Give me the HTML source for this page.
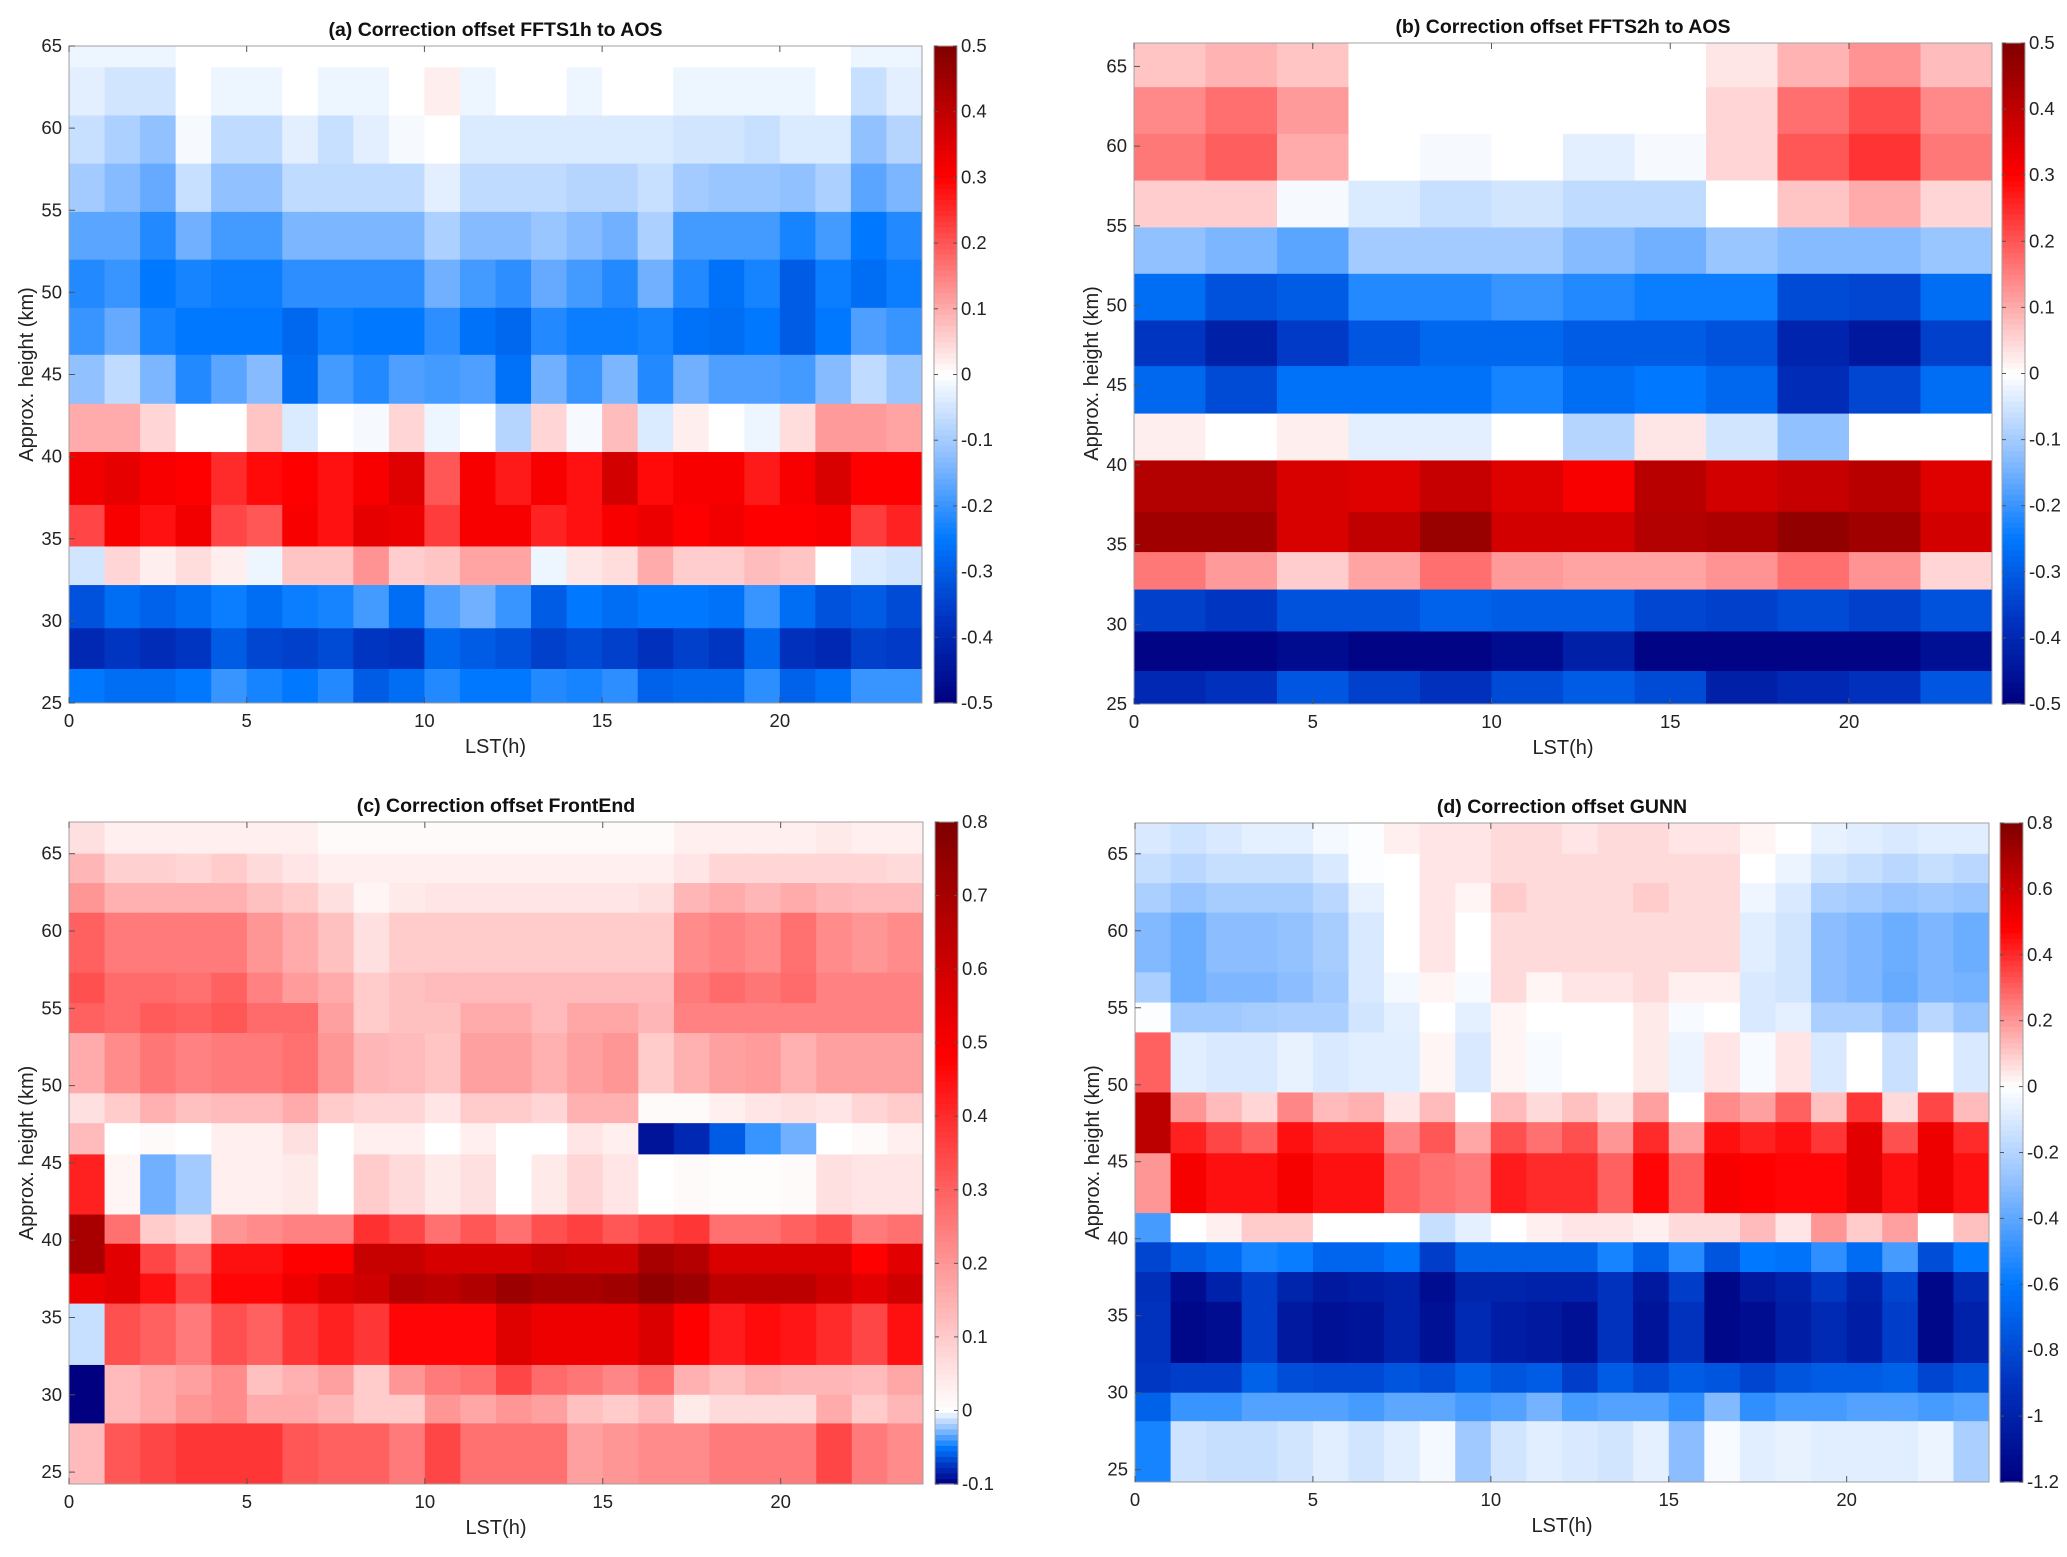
<!DOCTYPE html>
<html><head><meta charset="utf-8">
<style>
html,body{margin:0;padding:0;background:#fff;overflow:hidden;}
svg{display:block;font-family:"Liberation Sans",Arial,sans-serif;}
</style></head>
<body>
<svg id="fig" width="2067" height="1557" viewBox="0 0 2067 1557" xmlns="http://www.w3.org/2000/svg"></svg>
<script>
// ---------- DATA ----------
const hoursRange = [0, 24];
const xTicks = [0, 5, 10, 15, 20];
const yTicks = [25, 30, 35, 40, 45, 50, 55, 60, 65];
// row edges in km, top to bottom
const edgesAB = [66.5,63.7,60.77,57.84,54.9,51.99,49.06,46.2,43.22,40.28,37.06,34.53,32.18,29.55,27.07,25];
const edgesCD = [67.05,65.0,63.1,61.18,57.3,55.34,53.4,49.5,47.57,45.55,41.66,39.77,37.84,35.9,31.93,30.0,28.15,24.2];

const aValues = [
[-0.02,-0.02,-0.02,0,0,0,0,0,0,0,0,0,0,0,0,0,0,0,0,0,0,0,-0.02,-0.02],
[-0.03,-0.05,-0.05,0,-0.02,-0.02,0,-0.02,-0.02,0,0.02,-0.02,0,0,-0.02,0,0,-0.02,-0.02,-0.02,-0.02,0,-0.06,-0.03],
[-0.06,-0.09,-0.12,-0.01,-0.07,-0.07,-0.03,-0.06,-0.03,-0.01,0,-0.04,-0.04,-0.04,-0.04,-0.04,-0.04,-0.05,-0.05,-0.06,-0.04,-0.04,-0.12,-0.08],
[-0.1,-0.13,-0.16,-0.06,-0.12,-0.12,-0.07,-0.07,-0.07,-0.07,-0.03,-0.07,-0.07,-0.07,-0.08,-0.08,-0.06,-0.1,-0.11,-0.11,-0.12,-0.09,-0.17,-0.14],
[-0.17,-0.17,-0.22,-0.15,-0.19,-0.19,-0.14,-0.14,-0.14,-0.14,-0.09,-0.13,-0.13,-0.11,-0.13,-0.15,-0.09,-0.19,-0.19,-0.19,-0.23,-0.19,-0.25,-0.22],
[-0.22,-0.2,-0.25,-0.23,-0.24,-0.24,-0.21,-0.21,-0.21,-0.21,-0.15,-0.19,-0.21,-0.16,-0.19,-0.22,-0.15,-0.22,-0.26,-0.23,-0.3,-0.24,-0.27,-0.24],
[-0.2,-0.16,-0.23,-0.25,-0.25,-0.25,-0.28,-0.24,-0.25,-0.25,-0.21,-0.26,-0.28,-0.22,-0.24,-0.24,-0.23,-0.26,-0.27,-0.25,-0.3,-0.25,-0.18,-0.2],
[-0.12,-0.07,-0.14,-0.22,-0.17,-0.13,-0.27,-0.19,-0.22,-0.18,-0.19,-0.18,-0.26,-0.15,-0.2,-0.14,-0.22,-0.15,-0.18,-0.18,-0.19,-0.13,-0.07,-0.11],
[0.1,0.1,0.05,0,0,0.07,-0.04,0,-0.01,0.05,-0.02,0,-0.08,0.05,-0.01,0.08,-0.04,0.02,0,-0.02,0.04,0.12,0.12,0.11],
[0.32,0.34,0.31,0.3,0.25,0.29,0.3,0.28,0.31,0.35,0.2,0.31,0.27,0.31,0.28,0.37,0.29,0.31,0.31,0.27,0.31,0.36,0.3,0.3],
[0.22,0.31,0.28,0.32,0.22,0.2,0.31,0.28,0.34,0.33,0.23,0.31,0.31,0.26,0.28,0.31,0.33,0.3,0.32,0.3,0.3,0.31,0.23,0.26],
[-0.05,0.05,0.02,0.04,0.02,-0.02,0.07,0.07,0.13,0.06,0.07,0.11,0.11,-0.02,0.03,0.04,0.1,0.06,0.06,0.08,0.07,0,-0.04,-0.05],
[-0.32,-0.27,-0.29,-0.27,-0.24,-0.27,-0.24,-0.23,-0.19,-0.27,-0.18,-0.15,-0.2,-0.3,-0.25,-0.27,-0.25,-0.25,-0.26,-0.2,-0.27,-0.32,-0.3,-0.33],
[-0.4,-0.37,-0.39,-0.37,-0.3,-0.34,-0.35,-0.33,-0.37,-0.38,-0.28,-0.3,-0.32,-0.35,-0.33,-0.35,-0.38,-0.35,-0.37,-0.28,-0.38,-0.4,-0.35,-0.36],
[-0.25,-0.27,-0.27,-0.25,-0.2,-0.23,-0.25,-0.22,-0.3,-0.27,-0.22,-0.25,-0.25,-0.22,-0.23,-0.21,-0.29,-0.28,-0.28,-0.21,-0.29,-0.26,-0.2,-0.2]
];
const bValues = [
[0.07,0.09,0.07,0,0,0,0,0,0.03,0.09,0.13,0.08],
[0.14,0.17,0.12,0,0,0,0,0,0.05,0.17,0.21,0.14],
[0.16,0.19,0.1,0,-0.01,0,-0.03,-0.01,0.05,0.2,0.24,0.16],
[0.06,0.06,-0.01,-0.04,-0.06,-0.05,-0.07,-0.07,0,0.07,0.1,0.05],
[-0.12,-0.14,-0.17,-0.1,-0.1,-0.1,-0.13,-0.15,-0.11,-0.13,-0.13,-0.11],
[-0.27,-0.32,-0.3,-0.22,-0.22,-0.2,-0.22,-0.24,-0.24,-0.33,-0.34,-0.27],
[-0.37,-0.42,-0.36,-0.31,-0.28,-0.28,-0.3,-0.3,-0.32,-0.41,-0.44,-0.35],
[-0.28,-0.33,-0.26,-0.26,-0.26,-0.23,-0.27,-0.25,-0.28,-0.39,-0.34,-0.27],
[0.02,0,0.02,-0.03,-0.03,0,-0.08,0.03,-0.05,-0.12,0,0],
[0.42,0.42,0.36,0.35,0.39,0.35,0.31,0.41,0.37,0.39,0.41,0.35],
[0.45,0.45,0.36,0.4,0.46,0.37,0.37,0.42,0.43,0.47,0.45,0.37],
[0.16,0.12,0.06,0.11,0.17,0.12,0.11,0.11,0.13,0.17,0.13,0.05],
[-0.35,-0.37,-0.32,-0.32,-0.29,-0.3,-0.3,-0.34,-0.35,-0.33,-0.35,-0.32],
[-0.49,-0.49,-0.47,-0.49,-0.49,-0.47,-0.42,-0.49,-0.49,-0.49,-0.49,-0.46],
[-0.4,-0.38,-0.31,-0.35,-0.38,-0.33,-0.3,-0.33,-0.42,-0.4,-0.38,-0.31]
];
const cValues = [
[0.06,0.03,0.03,0.03,0.03,0.03,0.03,0.01,0.01,0.01,0.01,0.01,0.01,0.01,0.01,0.01,0.01,0.03,0.03,0.03,0.03,0.04,0.03,0.03],
[0.14,0.09,0.09,0.08,0.1,0.07,0.05,0.03,0.03,0.03,0.03,0.03,0.03,0.03,0.03,0.03,0.03,0.05,0.08,0.08,0.08,0.08,0.08,0.07],
[0.2,0.15,0.15,0.15,0.15,0.12,0.1,0.06,0.02,0.04,0.05,0.05,0.05,0.05,0.05,0.05,0.06,0.14,0.16,0.14,0.16,0.14,0.13,0.13],
[0.3,0.25,0.25,0.25,0.25,0.2,0.16,0.12,0.06,0.1,0.1,0.1,0.1,0.1,0.1,0.1,0.1,0.22,0.24,0.22,0.27,0.22,0.2,0.22],
[0.33,0.28,0.28,0.27,0.3,0.24,0.19,0.16,0.1,0.12,0.13,0.13,0.13,0.13,0.13,0.13,0.13,0.25,0.28,0.26,0.28,0.24,0.24,0.24],
[0.3,0.28,0.31,0.3,0.32,0.28,0.28,0.18,0.1,0.12,0.12,0.16,0.16,0.13,0.17,0.17,0.14,0.24,0.24,0.24,0.24,0.24,0.24,0.24],
[0.16,0.22,0.26,0.24,0.25,0.25,0.27,0.2,0.14,0.13,0.11,0.18,0.18,0.15,0.18,0.2,0.1,0.15,0.18,0.19,0.15,0.18,0.18,0.18],
[0.06,0.1,0.15,0.12,0.13,0.13,0.16,0.1,0.08,0.08,0.05,0.1,0.1,0.08,0.15,0.15,0.01,0.01,0.03,0.05,0.06,0.05,0.08,0.1],
[0.13,0,0.01,0,0.03,0.03,0.06,0,0.03,0.03,0,0.03,0,0,0.05,0.03,-0.09,-0.08,-0.06,-0.04,-0.03,0,0.01,0.03],
[0.42,0.02,-0.03,-0.02,0.03,0.03,0.04,0,0.1,0.07,0.04,0.06,0,0.04,0.08,0.05,0,0.01,0.005,0.005,0.01,0.06,0.05,0.05],
[0.7,0.27,0.1,0.07,0.2,0.22,0.24,0.24,0.39,0.35,0.27,0.32,0.27,0.33,0.36,0.32,0.35,0.38,0.27,0.27,0.3,0.33,0.25,0.27],
[0.7,0.55,0.35,0.28,0.45,0.45,0.48,0.48,0.62,0.62,0.58,0.58,0.58,0.62,0.6,0.6,0.7,0.67,0.57,0.57,0.57,0.57,0.48,0.55],
[0.52,0.55,0.45,0.35,0.47,0.47,0.52,0.57,0.6,0.67,0.65,0.68,0.73,0.7,0.7,0.72,0.76,0.73,0.65,0.65,0.65,0.6,0.55,0.6],
[-0.012,0.33,0.3,0.25,0.33,0.3,0.38,0.42,0.38,0.47,0.47,0.47,0.56,0.52,0.52,0.52,0.57,0.48,0.43,0.46,0.44,0.4,0.35,0.45],
[-0.1,0.13,0.16,0.18,0.22,0.12,0.15,0.18,0.1,0.2,0.25,0.27,0.35,0.28,0.26,0.23,0.27,0.15,0.12,0.15,0.14,0.14,0.13,0.17],
[-0.1,0.13,0.16,0.2,0.22,0.16,0.16,0.14,0.1,0.1,0.2,0.17,0.2,0.18,0.12,0.1,0.13,0.04,0.07,0.07,0.07,0.16,0.1,0.14],
[0.13,0.32,0.35,0.38,0.38,0.38,0.32,0.3,0.3,0.25,0.35,0.27,0.27,0.27,0.18,0.2,0.22,0.22,0.25,0.25,0.25,0.35,0.25,0.22]
];
const dValues = [
[-0.1,-0.13,-0.1,-0.07,-0.07,-0.03,-0.01,0.03,0.05,0.05,0.07,0.07,0.05,0.07,0.07,0.05,0.05,0.02,0,-0.06,-0.08,-0.1,-0.08,-0.08],
[-0.15,-0.18,-0.15,-0.15,-0.15,-0.1,-0.01,0,0.05,0.05,0.07,0.07,0.07,0.07,0.07,0.07,0.07,0,-0.05,-0.12,-0.15,-0.18,-0.15,-0.18],
[-0.22,-0.27,-0.23,-0.23,-0.23,-0.18,-0.06,0,0.05,0.02,0.1,0.07,0.07,0.07,0.1,0.07,0.07,-0.04,-0.1,-0.22,-0.24,-0.27,-0.25,-0.27],
[-0.32,-0.37,-0.3,-0.3,-0.28,-0.23,-0.1,0,0.05,0,0.07,0.07,0.07,0.07,0.07,0.07,0.07,-0.08,-0.12,-0.3,-0.33,-0.37,-0.33,-0.37],
[-0.22,-0.37,-0.33,-0.33,-0.3,-0.25,-0.1,-0.03,0.02,-0.02,0.07,0.02,0.05,0.05,0.07,0.03,0.03,-0.1,-0.12,-0.3,-0.33,-0.38,-0.33,-0.35],
[-0.01,-0.25,-0.25,-0.23,-0.22,-0.22,-0.12,-0.07,0,-0.07,0.02,0,0,0,0.04,-0.02,0,-0.1,-0.07,-0.22,-0.22,-0.3,-0.18,-0.27],
[0.3,-0.08,-0.1,-0.1,-0.06,-0.1,-0.08,-0.08,0.02,-0.1,0.02,-0.02,0,0,0.04,-0.05,0.05,-0.02,0.05,-0.1,0,-0.14,0,-0.1],
[0.65,0.2,0.13,0.08,0.23,0.13,0.15,0.05,0.13,0,0.13,0.07,0.12,0.06,0.18,0,0.22,0.18,0.3,0.12,0.38,0.07,0.35,0.13],
[0.65,0.42,0.35,0.3,0.45,0.4,0.4,0.23,0.32,0.17,0.33,0.27,0.33,0.2,0.4,0.18,0.45,0.42,0.45,0.38,0.55,0.33,0.52,0.4],
[0.2,0.5,0.45,0.45,0.5,0.45,0.45,0.3,0.27,0.25,0.43,0.4,0.4,0.3,0.47,0.3,0.5,0.48,0.47,0.47,0.55,0.45,0.52,0.45],
[-0.45,0,0.03,0.1,0.1,0,0,0,-0.15,-0.07,0,0.03,0.05,0.05,0.03,0.07,0.07,0.13,0.05,0.2,0.1,0.18,0,0.12],
[-0.82,-0.72,-0.66,-0.55,-0.58,-0.68,-0.68,-0.62,-0.85,-0.7,-0.7,-0.7,-0.7,-0.55,-0.7,-0.52,-0.75,-0.6,-0.62,-0.5,-0.65,-0.45,-0.78,-0.6],
[-0.92,-1.12,-1.0,-0.85,-0.98,-1.05,-1.02,-1.0,-1.12,-0.98,-0.98,-1.0,-1.0,-0.9,-1.05,-0.85,-1.15,-1.05,-1.0,-0.88,-1.0,-0.82,-1.15,-0.95],
[-0.9,-1.15,-1.12,-0.85,-1.05,-1.1,-1.08,-1.0,-1.1,-0.95,-1.02,-1.05,-1.1,-0.9,-1.08,-0.9,-1.15,-1.12,-1.02,-0.95,-1.02,-0.85,-1.15,-1.0],
[-0.88,-0.85,-0.85,-0.7,-0.78,-0.8,-0.8,-0.75,-0.78,-0.7,-0.75,-0.72,-0.85,-0.72,-0.8,-0.72,-0.75,-0.82,-0.75,-0.72,-0.72,-0.7,-0.82,-0.75],
[-0.7,-0.48,-0.48,-0.42,-0.42,-0.42,-0.45,-0.4,-0.4,-0.45,-0.42,-0.35,-0.45,-0.42,-0.42,-0.5,-0.32,-0.5,-0.45,-0.45,-0.42,-0.42,-0.45,-0.42],
[-0.55,-0.13,-0.15,-0.15,-0.12,-0.08,-0.12,-0.08,-0.03,-0.25,-0.12,-0.08,-0.1,-0.12,-0.07,-0.3,-0.02,-0.08,-0.06,-0.08,-0.08,-0.08,-0.05,-0.22]
];
const aTicksCb = [-0.5,-0.4,-0.3,-0.2,-0.1,0,0.1,0.2,0.3,0.4,0.5];
const cTicksCb = [-0.1,0,0.1,0.2,0.3,0.4,0.5,0.6,0.7,0.8];
const dTicksCb = [-1.2,-1,-0.8,-0.6,-0.4,-0.2,0,0.2,0.4,0.6,0.8];
const titles = ["(a) Correction offset FFTS1h to AOS","(b) Correction offset FFTS2h to AOS","(c) Correction offset FrontEnd","(d) Correction offset GUNN"];

// ---------- RENDER ----------
const NS = "http://www.w3.org/2000/svg";
const svg = document.getElementById('fig');
const stops = [[0,[0,0,128]],[0.125,[0,50,190]],[0.25,[0,120,255]],[0.375,[140,190,255]],[0.5,[255,255,255]],[0.625,[255,150,150]],[0.8,[255,0,0]],[1,[128,0,0]]];
function cmap(t){
  t=Math.max(0,Math.min(1,t));
  for(let i=1;i<stops.length;i++){
    if(t<=stops[i][0]){
      const a=stops[i-1],b=stops[i],f=(t-a[0])/(b[0]-a[0]);
      const c=a[1].map((v,k)=>Math.round(v+(b[1][k]-v)*f));
      return `rgb(${c[0]},${c[1]},${c[2]})`;
    }
  }
  return 'rgb(128,0,0)';
}
function vt(v,min,max){ return v<0 ? 0.5*(v-min)/(0-min) : 0.5+0.5*v/max; }
function mk(tag,attrs,parent){
  const e=document.createElementNS(NS,tag);
  for(const k in attrs) e.setAttribute(k,attrs[k]);
  (parent||svg).appendChild(e); return e;
}
let clipId=0;
function panel(p){
  const g=mk('g',{});
  
  
  const xs=h=>p.x0+(h-hoursRange[0])/(hoursRange[1]-hoursRange[0])*(p.x1-p.x0);
  const ys=km=>p.y1-(km-p.ymin)/(p.ymax-p.ymin)*(p.y1-p.y0);
  const cid='clip'+(clipId++);
  const defs=mk('defs',{},g);
  const cp=mk('clipPath',{id:cid},defs);
  mk('rect',{x:p.x0,y:p.y0,width:p.x1-p.x0,height:p.y1-p.y0},cp);
  const cells=mk('g',{'clip-path':`url(#${cid})`},g);
  
  
  const nr=p.values.length;
  for(let r=0;r<nr;r++){
    const row=p.values[r], nc=row.length, w=(hoursRange[1]-hoursRange[0])/nc;
    for(let c=0;c<nc;c++){
      const xa=xs(c*w), xb=xs((c+1)*w), ya=ys(p.edges[r]), yb=ys(p.edges[r+1]);
      const rc=mk('rect',{x:xa,y:ya,width:xb-xa+0.6,height:yb-ya+0.6,fill:cmap(vt(row[c],p.cmin,p.cmax))},cells);
      
      
    }
  }
  const box=mk('rect',{x:p.x0,y:p.y0,width:p.x1-p.x0,height:p.y1-p.y0,fill:'none',stroke:'#a0a0a0','stroke-width':1},g);
  
  
  xTicks.forEach(t=>{
    const x=xs(t);
    mk('line',{x1:x,x2:x,y1:p.y1,y2:p.y1-6,stroke:'#555'},g);
    mk('line',{x1:x,x2:x,y1:p.y0,y2:p.y0+6,stroke:'#555'},g);
    const tx=mk('text',{x:x,y:p.y1+24,'font-size':18.5,'text-anchor':'middle',fill:'#222'},g);
    tx.textContent=t;
    
    
  });
  yTicks.forEach(t=>{
    if(t<p.ymin-0.01||t>p.ymax+0.01) return;
    const y=ys(t);
    mk('line',{x1:p.x0,x2:p.x0+6,y1:y,y2:y,stroke:'#555'},g);
    const ty=mk('text',{x:p.x0-7,y:y+6,'font-size':18.5,'text-anchor':'end',fill:'#222'},g);
    ty.textContent=t;
    
    
  });
  const xl=mk('text',{x:(p.x0+p.x1)/2,y:p.y1+50,'font-size':20,'text-anchor':'middle',fill:'#222'},g);
  xl.textContent='LST(h)';
  
  
  const yl=mk('text',{x:0,y:0,'font-size':20,'text-anchor':'middle',fill:'#222',transform:`translate(${p.x0-36},${(p.y0+p.y1)/2}) rotate(-90)`},g);
  yl.textContent='Approx. height (km)';
  
  
  const ti=mk('text',{x:(p.x0+p.x1)/2,y:p.y0-10,'font-size':19.5,'font-weight':'bold','text-anchor':'middle',fill:'#111'},g);
  ti.textContent=p.title;
  
  
  // colorbar
  const cb=mk('g',{},g);
  
  
  const N=120, h=(p.y1-p.y0)/N;
  for(let i=0;i<N;i++){
    const v=p.cmin+(p.cmax-p.cmin)*(i+0.5)/N;
    mk('rect',{x:p.cbx,y:p.y1-(i+1)*h,width:p.cbw,height:h+0.6,fill:cmap(vt(v,p.cmin,p.cmax))},cb);
  }
  mk('rect',{x:p.cbx,y:p.y0,width:p.cbw,height:p.y1-p.y0,fill:'none',stroke:'#a0a0a0'},cb);
  p.cbTicks.forEach(t=>{
    const y=p.y1-(t-p.cmin)/(p.cmax-p.cmin)*(p.y1-p.y0);
    mk('line',{x1:p.cbx,x2:p.cbx+4,y1:y,y2:y,stroke:'#555'},cb);
    mk('line',{x1:p.cbx+p.cbw-4,x2:p.cbx+p.cbw,y1:y,y2:y,stroke:'#555'},cb);
    const tl=mk('text',{x:p.cbx+p.cbw+4,y:y+6,'font-size':18.5,fill:'#222'},cb);
    tl.textContent=t;
    
    
  });
}
panel({name:'panel-a',title:titles[0],values:aValues,edges:edgesAB,x0:69,x1:922,y0:46,y1:703,ymin:25,ymax:65,cmin:-0.5,cmax:0.5,cbx:934,cbw:23,cbTicks:aTicksCb});
panel({name:'panel-b',title:titles[1],values:bValues,edges:edgesAB,x0:1134,x1:1992,y0:43,y1:704,ymin:25,ymax:66.47,cmin:-0.5,cmax:0.5,cbx:2002,cbw:23,cbTicks:aTicksCb});
panel({name:'panel-c',title:titles[2],values:cValues,edges:edgesCD,x0:69,x1:923,y0:822,y1:1484,ymin:24.23,ymax:67.05,cmin:-0.1,cmax:0.8,cbx:935,cbw:23,cbTicks:cTicksCb});
panel({name:'panel-d',title:titles[3],values:dValues,edges:edgesCD,x0:1135,x1:1989,y0:823,y1:1482,ymin:24.2,ymax:67.0,cmin:-1.2,cmax:0.8,cbx:2000,cbw:23,cbTicks:dTicksCb});
</script>
</body></html>
